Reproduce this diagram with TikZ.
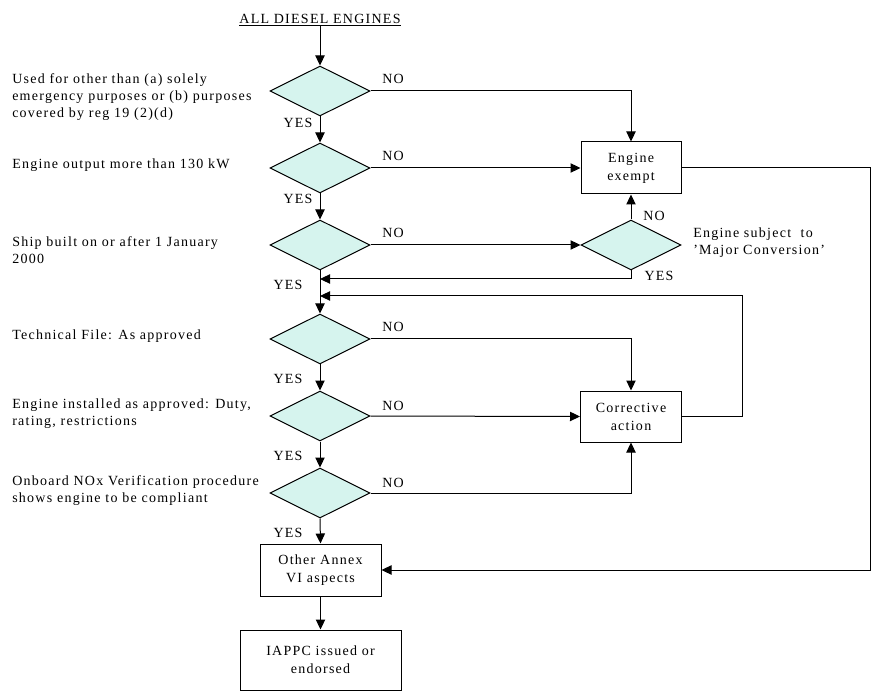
\documentclass[tikz,border=0pt]{standalone}
\usepackage{fontspec}
\setmainfont{Liberation Serif}[LetterSpace=9]
\usetikzlibrary{shapes.geometric,arrows.meta}
\definecolor{decfill}{RGB}{214,244,238}
\tikzset{
  dec/.style={diamond,draw,fill=decfill,line width=0.75pt,minimum width=75pt,minimum height=37.5pt,inner sep=0pt},
  box/.style={rectangle,draw,line width=0.75pt,align=center,inner sep=0pt,font=\fontsize{10.5}{13.5}\selectfont},
  arr/.style={-{Triangle[length=7.5pt,width=7pt]},line width=0.75pt},
  lbl/.style={inner sep=0pt,align=left,anchor=west,font=\fontsize{10.5}{12.75}\selectfont},
  ans/.style={inner sep=0pt,font=\fontsize{10.5}{12}\selectfont},
}

\begin{document}
\begin{tikzpicture}[x=0.75pt,y=0.75pt,yscale=-1,xscale=1]
\useasboundingbox (0,0) rectangle (874,691);
% Text Node
\draw (320,20) node [ans] (title) {\underline{ALL DIESEL ENGINES}};
%Shape: Diamond
\draw (320,91) node [dec] (d1) {};
\draw (320,168) node [dec] (d2) {};
\draw (320,245) node [dec] (d3) {};
\draw (320,339) node [dec] (d4) {};
\draw (320,416) node [dec] (d5) {};
\draw (320,493) node [dec] (d6) {};
\draw (631,245) node [dec] (conv) {};
%Shape: Rectangle
\draw (631,168) node [box,minimum width=75pt,minimum height=39pt] (exempt) {Engine\\exempt};
\draw (631,416.5) node [box,minimum width=75.75pt,minimum height=38.25pt] (fix) {Corrective\\action};
\draw (320.5,570) node [box,minimum width=90.75pt,minimum height=39pt] (annex) {Other Annex\\VI aspects};
\draw (320.5,660) node [box,minimum width=120.75pt,minimum height=45pt] (iappc) {IAPPC issued or\\endorsed};
%Coordinates
\coordinate (j1) at (320,279);
\coordinate (j2) at (320,296);
%Straight Lines
\draw [arr] (title) -- (d1.north);
\draw [arr] (d1.south) -- (d2.north);
\draw [arr] (d2.south) -- (d3.north);
\draw [arr] (d3.south) -- (d4.north);
\draw [arr] (d4.south) -- (d5.north);
\draw [arr] (d5.south) -- (d6.north);
\draw [arr] (d6.south) -- (annex.north);
\draw [arr] (annex.south) -- (iappc.north);
\draw [arr] (d1.east) -| (exempt.north);
\draw [arr] (d2.east) -- (exempt.west);
\draw [arr] (d3.east) -- (conv.west);
\draw [arr] (conv.north) -- (exempt.south);
\draw [arr] (conv.south) |- (j1);
\draw [arr] (fix.east) -- ++(60,0) |- (j2);
\draw [arr] (d4.east) -| (fix.north);
\draw [arr] (d5.east) -- (fix.west);
\draw [arr] (d6.east) -| (fix.south);
\draw [arr] (exempt.east) -- ++(189,0) |- (annex.east);
% Text Node
\draw (12,97) node [lbl] (q1) {Used for other than (a) solely\\emergency purposes or (b) purposes\\covered by reg 19 (2)(d)};
\draw (12,165) node [lbl] (q2) {Engine output more than 130 kW};
\draw (12,250.5) node [lbl] (q3) {Ship built on or after 1 January\\2000};
\draw (12,336) node [lbl] (q4) {Technical File: As approved};
\draw (12,414) node [lbl] (q5) {Engine installed as approved: Duty,\\rating, restrictions};
\draw (12,491) node [lbl] (q6) {Onboard NOx Verification procedure\\shows engine to be compliant};
\draw (693,243) node [lbl] (q7) {Engine subject~ to\\'Major Conversion'};
% Text Node
\draw (393,79) node [ans] (no1) {NO};
\draw (393,156) node [ans] (no2) {NO};
\draw (393,233) node [ans] (no3) {NO};
\draw (393,327) node [ans] (no4) {NO};
\draw (393,406) node [ans] (no5) {NO};
\draw (393,483) node [ans] (no6) {NO};
\draw (654,216) node [ans] (no7) {NO};
\draw (298,123) node [ans] (yes1) {YES};
\draw (298,199) node [ans] (yes2) {YES};
\draw (288,285) node [ans] (yes3) {YES};
\draw (288,379) node [ans] (yes4) {YES};
\draw (288,456) node [ans] (yes5) {YES};
\draw (288,533) node [ans] (yes6) {YES};
\draw (659,276) node [ans] (yes7) {YES};
\end{tikzpicture}
\end{document}
